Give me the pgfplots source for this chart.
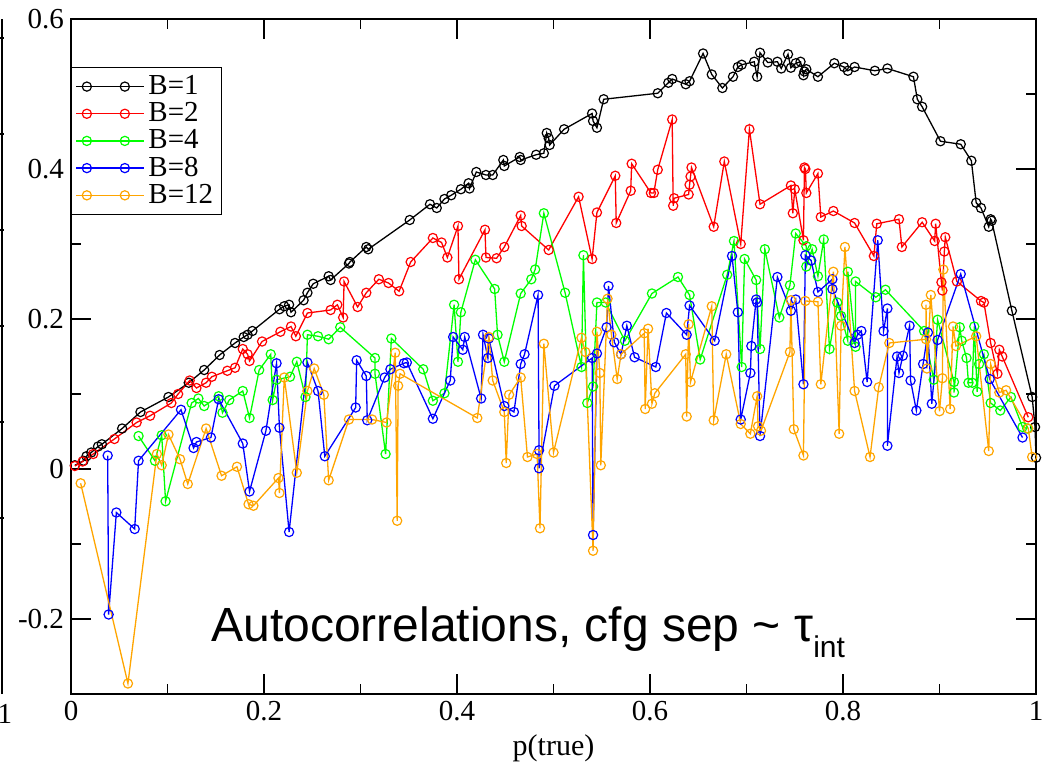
\documentclass[border=0pt]{standalone}
\usepackage{fontspec}
\setmainfont{Liberation Serif}
\newfontfamily\titlefont{Liberation Sans}
\usepackage{pgfplots}
\pgfplotsset{compat=1.18}
\definecolor{gOrange}{RGB}{255,165,0}
\definecolor{gGreen}{RGB}{0,255,0}
\begin{document}
\begin{tikzpicture}
\useasboundingbox (-35.5pt,-33.5pt) rectangle (485.5pt,347pt);
\begin{axis}[
  at={(0,0)}, anchor=south west,
  scale only axis, width=482.5pt, height=337.5pt,
  xmin=0, xmax=1, ymin=-0.3, ymax=0.6,
  xtick={0,0.2,0.4,0.6,0.8,1}, ytick={-0.2,0,0.2,0.4,0.6},
  minor x tick num=1, minor y tick num=1,
  tick align=inside, major tick length=10pt, minor tick length=5pt,
  axis line style={line width=1pt}, every tick/.style={line width=0.65pt,black},
  tick label style={font=\fontsize{14.5}{16}\selectfont},
  /pgf/number format/assume math mode=true,
  xlabel={p(true)}, xlabel style={font=\fontsize{15}{17}\selectfont, yshift=0pt},
  every axis plot/.append style={line width=0.65pt, mark=o, mark size=2.3pt, mark options={line width=0.6pt}},
  legend image code/.code={\path (-5.3pt,0pt) -- (28.5pt,0pt);
    \draw[mark repeat=1,mark phase=1,#1] plot coordinates {(0pt,0pt) (19pt,0pt)};},
  legend style={at={(rel axis cs:0,0.929)}, anchor=north west, draw=black, line width=0.6pt,
    font=\fontsize{14.5}{15}\selectfont, row sep=-1.5pt, inner sep=2pt},
  legend cell align=left,
]
\addplot[black] coordinates {(0.004,0.005) (0.013,0.011) (0.016,0.017) (0.021,0.022) (0.028,0.030) (0.032,0.033) (0.053,0.054) (0.072,0.076) (0.101,0.096) (0.122,0.115) (0.138,0.132) (0.154,0.152) (0.170,0.168) (0.179,0.176) (0.183,0.179) (0.188,0.184) (0.216,0.213) (0.221,0.217) (0.226,0.219) (0.228,0.209) (0.241,0.225) (0.245,0.235) (0.251,0.247) (0.267,0.257) (0.269,0.252) (0.288,0.274) (0.289,0.276) (0.306,0.296) (0.308,0.293) (0.351,0.332) (0.372,0.353) (0.379,0.348) (0.387,0.360) (0.394,0.365) (0.404,0.373) (0.412,0.381) (0.413,0.374) (0.420,0.396) (0.430,0.392) (0.437,0.392) (0.448,0.412) (0.449,0.404) (0.465,0.416) (0.466,0.412) (0.482,0.419) (0.490,0.421) (0.493,0.448) (0.495,0.441) (0.496,0.432) (0.511,0.453) (0.540,0.474) (0.541,0.464) (0.545,0.455) (0.552,0.493) (0.608,0.501) (0.619,0.515) (0.623,0.520) (0.637,0.513) (0.641,0.517) (0.655,0.554) (0.664,0.526) (0.675,0.508) (0.686,0.523) (0.691,0.536) (0.695,0.539) (0.708,0.543) (0.711,0.523) (0.714,0.555) (0.722,0.542) (0.732,0.543) (0.736,0.534) (0.743,0.553) (0.746,0.535) (0.751,0.541) (0.756,0.543) (0.759,0.525) (0.760,0.530) (0.762,0.533) (0.774,0.523) (0.791,0.541) (0.801,0.536) (0.805,0.531) (0.812,0.536) (0.833,0.531) (0.846,0.534) (0.873,0.523) (0.877,0.493) (0.882,0.483) (0.901,0.437) (0.922,0.433) (0.933,0.411) (0.938,0.355) (0.943,0.348) (0.951,0.323) (0.953,0.333) (0.954,0.331) (0.975,0.211) (0.996,0.096) (0.999,0.056) (1.000,0.015)};
\addlegendentry{B=1}
\addplot[red] coordinates {(0.004,0.004) (0.012,0.010) (0.023,0.020) (0.045,0.040) (0.068,0.062) (0.082,0.071) (0.104,0.088) (0.111,0.100) (0.123,0.118) (0.130,0.108) (0.140,0.115) (0.146,0.123) (0.162,0.131) (0.170,0.135) (0.178,0.160) (0.183,0.153) (0.185,0.144) (0.198,0.170) (0.217,0.183) (0.228,0.190) (0.233,0.177) (0.245,0.208) (0.269,0.212) (0.276,0.219) (0.282,0.202) (0.283,0.250) (0.297,0.216) (0.306,0.235) (0.319,0.253) (0.329,0.248) (0.340,0.237) (0.352,0.276) (0.375,0.308) (0.384,0.302) (0.390,0.282) (0.401,0.324) (0.402,0.253) (0.429,0.319) (0.430,0.282) (0.441,0.281) (0.449,0.296) (0.466,0.338) (0.467,0.324) (0.495,0.292) (0.526,0.363) (0.540,0.280) (0.545,0.342) (0.564,0.391) (0.565,0.328) (0.580,0.371) (0.581,0.407) (0.601,0.368) (0.604,0.368) (0.608,0.399) (0.623,0.466) (0.624,0.351) (0.625,0.361) (0.640,0.366) (0.641,0.379) (0.642,0.390) (0.643,0.402) (0.666,0.323) (0.677,0.410) (0.694,0.300) (0.703,0.453) (0.714,0.353) (0.746,0.378) (0.748,0.341) (0.750,0.373) (0.759,0.305) (0.760,0.402) (0.761,0.400) (0.762,0.368) (0.774,0.394) (0.777,0.336) (0.790,0.344) (0.812,0.328) (0.832,0.284) (0.835,0.327) (0.858,0.333) (0.861,0.296) (0.882,0.329) (0.895,0.304) (0.896,0.327) (0.902,0.249) (0.903,0.238) (0.905,0.290) (0.906,0.309) (0.918,0.250) (0.943,0.224) (0.946,0.222) (0.953,0.168) (0.960,0.127) (0.962,0.159) (0.965,0.150) (0.992,0.069)};
\addlegendentry{B=2}
\addplot[gGreen] coordinates {(0.070,0.044) (0.087,0.011) (0.094,0.045) (0.098,-0.043) (0.125,0.088) (0.132,0.094) (0.138,0.084) (0.153,0.097) (0.157,0.075) (0.164,0.092) (0.178,0.104) (0.185,0.068) (0.195,0.132) (0.207,0.153) (0.209,0.092) (0.213,0.119) (0.227,0.123) (0.234,0.143) (0.243,0.096) (0.245,0.179) (0.256,0.177) (0.267,0.173) (0.279,0.189) (0.315,0.148) (0.315,0.127) (0.326,0.020) (0.332,0.174) (0.365,0.133) (0.375,0.091) (0.387,0.101) (0.397,0.219) (0.401,0.143) (0.404,0.209) (0.419,0.279) (0.439,0.240) (0.442,0.179) (0.449,0.143) (0.466,0.234) (0.477,0.253) (0.481,0.266) (0.490,0.341) (0.512,0.235) (0.529,0.136) (0.531,0.285) (0.535,0.088) (0.541,0.110) (0.545,0.222) (0.554,0.222) (0.574,0.171) (0.602,0.234) (0.629,0.256) (0.641,0.232) (0.652,0.146) (0.680,0.259) (0.687,0.304) (0.695,0.136) (0.698,0.280) (0.710,0.252) (0.714,0.160) (0.719,0.293) (0.734,0.202) (0.745,0.245) (0.751,0.314) (0.762,0.297) (0.762,0.270) (0.768,0.293) (0.774,0.257) (0.780,0.306) (0.786,0.160) (0.794,0.222) (0.798,0.204) (0.805,0.171) (0.805,0.263) (0.813,0.163) (0.813,0.250) (0.834,0.229) (0.844,0.239) (0.884,0.184) (0.894,0.119) (0.898,0.199) (0.915,0.116) (0.915,0.102) (0.921,0.189) (0.923,0.171) (0.928,0.148) (0.930,0.115) (0.934,0.115) (0.936,0.190) (0.939,0.103) (0.941,0.140) (0.946,0.153) (0.953,0.088) (0.963,0.078) (0.974,0.096) (0.986,0.056) (0.991,0.054)};
\addlegendentry{B=4}
\addplot[blue] coordinates {(0.038,0.018) (0.039,-0.194) (0.047,-0.058) (0.066,-0.080) (0.070,0.011) (0.114,0.079) (0.127,0.028) (0.130,0.036) (0.145,0.042) (0.153,0.093) (0.178,0.034) (0.185,-0.030) (0.202,0.051) (0.213,0.141) (0.216,0.055) (0.226,-0.084) (0.245,0.142) (0.256,0.104) (0.263,0.017) (0.295,0.082) (0.296,0.145) (0.306,0.124) (0.307,0.065) (0.325,0.122) (0.331,0.133) (0.345,0.141) (0.348,0.142) (0.375,0.067) (0.393,0.118) (0.396,0.176) (0.406,0.159) (0.408,0.176) (0.425,0.094) (0.427,0.179) (0.432,0.148) (0.433,0.174) (0.449,0.084) (0.459,0.076) (0.466,0.140) (0.470,0.153) (0.484,0.232) (0.485,0.025) (0.485,0.001) (0.501,0.111) (0.540,0.148) (0.541,-0.088) (0.545,0.154) (0.555,0.189) (0.557,0.244) (0.563,0.169) (0.570,0.153) (0.576,0.191) (0.584,0.149) (0.606,0.136) (0.617,0.208) (0.638,0.179) (0.641,0.218) (0.667,0.171) (0.685,0.284) (0.691,0.209) (0.694,0.066) (0.704,0.128) (0.705,0.164) (0.710,0.226) (0.711,0.222) (0.714,0.044) (0.732,0.256) (0.746,0.211) (0.751,0.226) (0.759,0.113) (0.761,0.285) (0.767,0.278) (0.774,0.236) (0.789,0.253) (0.789,0.240) (0.812,0.168) (0.815,0.179) (0.819,0.184) (0.825,0.116) (0.836,0.305) (0.842,0.184) (0.846,0.214) (0.846,0.031) (0.856,0.150) (0.858,0.128) (0.862,0.151) (0.869,0.191) (0.870,0.118) (0.876,0.078) (0.883,0.140) (0.888,0.182) (0.892,0.087) (0.898,0.172) (0.922,0.260) (0.952,0.120) (0.986,0.042)};
\addlegendentry{B=8}
\addplot[gOrange] coordinates {(0.010,-0.019) (0.059,-0.286) (0.089,0.020) (0.094,0.005) (0.101,0.046) (0.113,0.013) (0.121,-0.020) (0.140,0.054) (0.156,-0.009) (0.172,0.003) (0.184,-0.047) (0.189,-0.049) (0.215,-0.012) (0.216,-0.032) (0.221,0.122) (0.234,-0.005) (0.245,0.104) (0.252,0.134) (0.262,0.099) (0.267,-0.015) (0.288,0.066) (0.312,0.066) (0.327,0.062) (0.336,0.155) (0.338,-0.069) (0.339,0.111) (0.341,0.127) (0.421,0.068) (0.433,0.176) (0.437,0.118) (0.449,0.076) (0.451,0.008) (0.454,0.099) (0.466,0.122) (0.473,0.016) (0.483,0.020) (0.486,-0.079) (0.490,0.167) (0.500,0.022) (0.529,0.175) (0.533,0.156) (0.541,-0.109) (0.545,0.183) (0.548,0.128) (0.549,0.005) (0.556,0.227) (0.560,0.179) (0.566,0.120) (0.570,0.153) (0.594,0.181) (0.595,0.080) (0.598,0.187) (0.602,0.087) (0.605,0.101) (0.637,0.153) (0.638,0.070) (0.640,0.193) (0.642,0.116) (0.664,0.217) (0.666,0.065) (0.679,0.153) (0.694,0.060) (0.704,0.047) (0.711,0.097) (0.712,0.057) (0.715,0.051) (0.745,0.156) (0.746,0.225) (0.749,0.053) (0.759,0.018) (0.761,0.224) (0.774,0.223) (0.777,0.113) (0.790,0.263) (0.796,0.047) (0.798,0.191) (0.802,0.296) (0.812,0.104) (0.828,0.016) (0.837,0.109) (0.848,0.168) (0.886,0.173) (0.886,0.219) (0.887,0.134) (0.891,0.232) (0.900,0.077) (0.903,0.121) (0.904,0.266) (0.911,0.080) (0.914,0.190) (0.917,0.164) (0.938,0.177) (0.951,0.024) (0.953,0.140) (0.962,0.102) (0.969,0.105) (0.992,0.054) (0.996,0.016)};
\addlegendentry{B=12}
\node[anchor=base west, inner sep=0pt, font=\titlefont\fontsize{24}{28}\selectfont]
  at (rel axis cs:0.145,0.0775) {Autocorrelations, cfg sep \textasciitilde\ τ\raisebox{-8pt}{\fontsize{15}{17}\selectfont int}};
\end{axis}
% edge of the neighbouring panel, cut off by the crop
\draw[line width=1pt] (-34.5pt,0pt) -- (-34.5pt,337.5pt);
\foreach \t in {88,136,184,232,280,328} \draw[line width=0.65pt] (-35.5pt,\t pt) -- (-33.5pt,\t pt);
\node[anchor=north, font=\fontsize{14.5}{16}\selectfont, inner sep=0pt] at (-33pt,-5pt) {1};
\end{tikzpicture}
\end{document}
